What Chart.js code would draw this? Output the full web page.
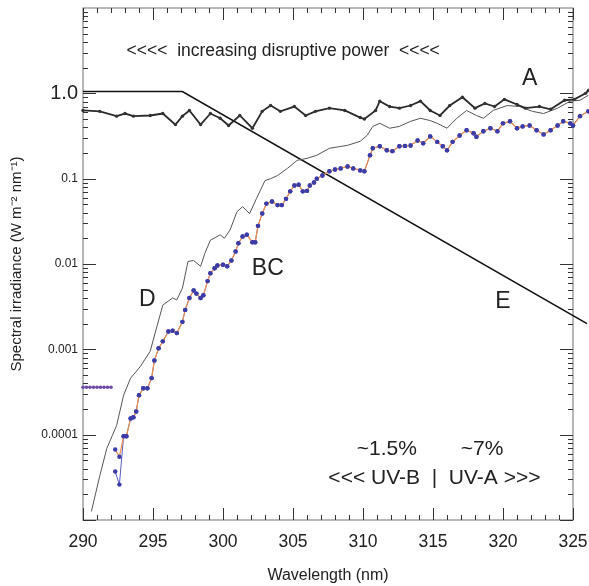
<!DOCTYPE html>
<html>
<head>
<meta charset="utf-8">
<script src="https://cdn.jsdelivr.net/npm/chart.js@4.4.1/dist/chart.umd.min.js"></script>
<style>
  html, body { margin: 0; padding: 0; background: #fff; }
  #uvChart { display: block; }
</style>
</head>
<body>
<canvas id="uvChart" width="589" height="586"></canvas>
<script>
  // wavelengths (nm) and spectral irradiance (W m-2 nm-1)

  // A – extraterrestrial spectrum (black, beaded)
  const aNm  = [290.0, 291.2, 292.4, 293.0, 293.6, 294.8, 295.7, 296.6, 297.1, 297.6, 298.4, 299.1, 299.8, 300.4,
                301.2, 302.1, 302.8, 303.4, 304.1, 305.1, 305.9, 306.6, 307.6, 308.7, 309.8, 310.1, 310.9, 311.2,
                311.9, 312.6, 313.4, 314.1, 314.8, 315.5, 316.2, 317.1, 318.0, 318.7, 319.4, 320.1, 321.0, 321.6,
                322.6, 323.4, 324.4, 325.1, 325.9, 326.1];
  const aVal = [0.63, 0.615, 0.54, 0.58, 0.54, 0.55, 0.58, 0.43, 0.54, 0.63, 0.43, 0.58, 0.51, 0.42,
                0.55, 0.39, 0.615, 0.72, 0.615, 0.70, 0.55, 0.615, 0.67, 0.63, 0.52, 0.50, 0.63, 0.81,
                0.70, 0.67, 0.72, 0.81, 0.63, 0.55, 0.72, 0.90, 0.67, 0.76, 0.70, 0.85, 0.74, 0.67,
                0.70, 0.65, 0.83, 0.85, 1.0, 1.08];

  // D – thin grey curve
  const dNm  = [290.6, 291.2, 291.7, 292.1, 292.4, 292.9, 293.4, 294.1, 294.8, 295.3, 295.7, 296.4, 296.7, 297.1,
                297.5, 297.9, 298.4, 298.7, 299.1, 299.8, 300.1, 300.5, 301.0, 301.4, 301.9, 302.4, 303.0, 303.4,
                303.9, 304.6, 305.3, 306.0, 306.7, 307.6, 308.9, 309.8, 310.3, 310.7, 311.2, 311.9, 312.6, 313.4,
                314.1, 314.8, 315.3, 316.0, 316.7, 317.4, 318.1, 318.6, 319.3, 320.3, 321.2, 322.1, 322.9, 323.9,
                324.8, 325.5, 326.1];
  const dVal = [1.26e-5, 3.3e-5, 6.9e-5, 9.8e-5, 1.28e-4, 2.9e-4, 4.6e-4, 6.3e-4, 9.5e-4, 1.9e-3, 3.3e-3, 4.0e-3, 3.8e-3, 5.2e-3,
                0.0107, 0.011, 0.0094, 0.0133, 0.019, 0.022, 0.020, 0.025, 0.041, 0.047, 0.039, 0.059, 0.095, 0.10,
                0.109, 0.132, 0.164, 0.173, 0.188, 0.227, 0.246, 0.274, 0.322, 0.41, 0.445, 0.39, 0.41, 0.47,
                0.51, 0.48, 0.445, 0.39, 0.51, 0.63, 0.55, 0.51, 0.63, 0.72, 0.70, 0.615, 0.58, 0.67,
                0.81, 0.83, 0.95];

  // B and C – blue dots; they only differ at the first two points
  const bcNm  = [292.9, 293.1, 293.4, 293.6, 293.8, 294.0, 294.3, 294.6, 294.9, 295.1, 295.4, 295.7, 296.1, 296.4,
                 296.7, 297.1, 297.3, 297.6, 297.9, 298.1, 298.4, 298.6, 298.9, 299.1, 299.4, 299.6, 300.0, 300.3,
                 300.6, 300.9, 301.1, 301.4, 301.7, 302.1, 302.3, 302.5, 302.8, 303.1, 303.5, 303.9, 304.2, 304.5,
                 304.8, 305.1, 305.4, 305.7, 306.0, 306.2, 306.5, 306.7, 307.1, 307.6, 308.0, 308.4, 308.9, 309.3,
                 309.8, 310.1, 310.5, 310.7, 311.2, 311.7, 312.1, 312.6, 313.0, 313.4, 313.9, 314.3, 314.8, 315.3,
                 315.7, 316.0, 316.4, 316.9, 317.4, 317.9, 318.1, 318.6, 319.1, 319.6, 320.0, 320.5, 321.0, 321.4,
                 321.9, 322.4, 322.9, 323.4, 323.9, 324.3, 324.8, 325.0, 325.5, 326.1];
  const bcVal = [9.6e-5, 9.6e-5, 1.55e-4, 1.6e-4, 1.87e-4, 2.9e-4, 3.5e-4, 3.5e-4, 4.6e-4, 7.4e-4, 1.03e-3, 1.24e-3, 1.62e-3, 1.65e-3,
                 1.55e-3, 2.1e-3, 2.9e-3, 4.0e-3, 4.9e-3, 4.5e-3, 4.0e-3, 4.3e-3, 6.3e-3, 7.8e-3, 8.9e-3, 9.6e-3, 9.8e-3, 9.4e-3,
                 0.011, 0.014, 0.0175, 0.021, 0.022, 0.018, 0.018, 0.028, 0.039, 0.051, 0.054, 0.049, 0.049, 0.058,
                 0.071, 0.083, 0.085, 0.071, 0.072, 0.083, 0.09, 0.10, 0.109, 0.122, 0.128, 0.132, 0.139, 0.132,
                 0.125, 0.122, 0.188, 0.227, 0.24, 0.215, 0.21, 0.24, 0.242, 0.245, 0.28, 0.26, 0.313, 0.27,
                 0.24, 0.215, 0.27, 0.32, 0.37, 0.34, 0.31, 0.36, 0.39, 0.36, 0.445, 0.47, 0.39, 0.41,
                 0.42, 0.37, 0.33, 0.37, 0.42, 0.47, 0.445, 0.42, 0.54, 0.615];
  const bStartNm  = [292.3, 292.6];
  const bStartVal = [3.7e-5, 2.6e-5];
  const cStartNm  = [292.3, 292.6];
  const cStartVal = [6.7e-5, 5.5e-5];

  // flat purple segment on the left
  const flatNm  = [290.0, 290.25, 290.5, 290.75, 291.0, 291.25, 291.5, 291.75, 292.0];
  const flatVal = [3.6e-4, 3.6e-4, 3.6e-4, 3.6e-4, 3.6e-4, 3.6e-4, 3.6e-4, 3.6e-4, 3.6e-4];

  // E – action spectrum (flat, then log-linear fall)
  const eNm  = [290.0, 297.1, 326.0];
  const eVal = [1.05, 1.05, 0.002];

  const yTickVals = [0.0001, 0.001, 0.01, 0.1, 1];
  const yTickText = ['0.0001', '0.001', '0.01', '0.1', '1.0'];

  // text annotations: [text, nm, value, font size]
  const notes = [
    ['<<<<  increasing disruptive power  <<<<', 304.3, 3.1, 17.5],
    ['A', 321.9, 1.5, 23],
    ['D', 294.6, 0.00385, 23],
    ['BC', 303.2, 0.0089, 23],
    ['E', 320.0, 0.00364, 23],
    ['~1.5%', 311.7, 6.7e-5, 21],
    ['~7%', 318.5, 6.7e-5, 21],
    ['<<< UV-B  |  UV-A >>>', 315.1, 3.07e-5, 21]
  ];

  const pts = (xs, ys) => xs.map((x, i) => ({x: x, y: ys[i]}));
  const FONT = '"Liberation Sans", Arial, Helvetica, sans-serif';

  let savedArea = null;

  const frameTicks = {
    id: 'frameTicks',
    beforeDatasetsDraw(chart) {
      const {ctx, chartArea: a, scales: {x, y}} = chart;
      ctx.save();
      ctx.strokeStyle = '#888';
      ctx.lineWidth = 1.2;
      ctx.strokeRect(a.left, a.top, a.right - a.left, a.bottom - a.top);
      ctx.strokeStyle = '#333';
      ctx.lineWidth = 1;
      ctx.beginPath();
      for (let nm = 290; nm <= 325; nm++) {
        const px = Math.round(x.getPixelForValue(nm)) + 0.5;
        const len = nm % 5 === 0 ? 12 : 5;
        ctx.moveTo(px, a.bottom); ctx.lineTo(px, a.bottom - len);
        ctx.moveTo(px, a.top); ctx.lineTo(px, a.top + len);
      }
      for (let e = -5; e <= 0; e++) {
        for (let m = 1; m <= 9; m++) {
          const v = m * Math.pow(10, e);
          if (v < 1e-5 || v > 10) continue;
          const py = Math.round(y.getPixelForValue(v)) + 0.5;
          const len = m === 1 ? 13 : 5;
          ctx.moveTo(a.left, py); ctx.lineTo(a.left + len, py);
          ctx.moveTo(a.right, py); ctx.lineTo(a.right - len, py);
        }
      }
      ctx.stroke();
      ctx.restore();
      // let the points past 325 nm be drawn too, as in the figure
      savedArea = {right: a.right, width: a.width};
      a.right = chart.width;
      a.width = a.right - a.left;
    },
    afterDatasetsDraw(chart) {
      const {ctx, chartArea: a, scales: {x, y}} = chart;
      if (savedArea) { a.right = savedArea.right; a.width = savedArea.width; }
      ctx.save();
      ctx.fillStyle = '#222';
      ctx.textAlign = 'center';
      ctx.textBaseline = 'middle';
      notes.forEach(n => {
        ctx.font = n[3] + 'px ' + FONT;
        ctx.fillText(n[0], x.getPixelForValue(n[1]), y.getPixelForValue(n[2]));
      });
      ctx.restore();
    }
  };

  const config = {
    type: 'line',
    data: {
      datasets: [
        {
          // C – orange line with blue dots
          data: pts(cStartNm.concat(bcNm), cStartVal.concat(bcVal)),
          borderColor: '#f0904a', borderWidth: 1.2,
          pointRadius: 2.2, pointBackgroundColor: '#3c3ca8', pointBorderWidth: 0,
          clip: false
        },
        {
          // B – thin blue line with blue dots
          data: pts(bStartNm.concat(bcNm), bStartVal.concat(bcVal)),
          borderColor: '#5a5ac0', borderWidth: 1,
          pointRadius: 2.2, pointBackgroundColor: '#3c3ca8', pointBorderWidth: 0,
          clip: false
        },
        {
          data: pts(flatNm, flatVal),
          borderColor: '#d0508a', borderWidth: 1,
          pointRadius: 1.8, pointBackgroundColor: '#6a4aa8', pointBorderWidth: 0,
          clip: false
        },
        {
          // A
          data: pts(aNm, aVal),
          borderColor: '#2a2a2a', borderWidth: 1.8,
          pointRadius: 1.7, pointBackgroundColor: '#333', pointBorderWidth: 0,
          clip: false
        },
        {
          // D
          data: pts(dNm, dVal),
          borderColor: '#555', borderWidth: 1,
          pointRadius: 0,
          clip: false
        },
        {
          // E
          data: pts(eNm, eVal),
          borderColor: '#111', borderWidth: 1.6,
          pointRadius: 0,
          clip: false
        }
      ]
    },
    options: {
      responsive: false,
      animation: false,
      layout: { padding: { top: 8, right: 16, left: 0, bottom: 0 } },
      plugins: {
        legend: { display: false },
        tooltip: { enabled: false }
      },
      scales: {
        x: {
          type: 'linear',
          afterDataLimits: s => { s.min = 290; s.max = 325; },
          afterFit: s => { s.height = 66; s.paddingLeft = 0; s.paddingRight = 0; },
          grid: { display: false, drawTicks: false },
          border: { display: false },
          ticks: { stepSize: 5, padding: 12, color: '#222', font: { family: FONT, size: 17.5 } },
          title: {
            display: true, text: 'Wavelength (nm)', color: '#222',
            font: { family: FONT, size: 16 }, padding: { top: 0, bottom: 1 }
          }
        },
        y: {
          type: 'logarithmic',
          min: 1e-5,
          max: 10,
          afterFit: s => { s.width = 83; s.paddingTop = 0; s.paddingBottom = 0; },
          afterBuildTicks: s => { s.ticks = yTickVals.map(v => ({value: v})); },
          grid: { display: false, drawTicks: false },
          border: { display: false },
          ticks: {
            padding: 5,
            color: '#222',
            autoSkip: false,
            callback: v => yTickText[yTickVals.indexOf(v)],
            font: c => ({ family: FONT, size: (c.tick && c.tick.value === 1) ? 20 : 12 })
          },
          title: {
            display: true, text: 'Spectral irradiance (W m\u207B\u00B2 nm\u207B\u00B9)', color: '#222',
            font: { family: FONT, size: 15 }, padding: { top: 8, bottom: 0 }
          }
        }
      }
    },
    plugins: [frameTicks]
  };

  new Chart(document.getElementById('uvChart').getContext('2d'), config);
</script>
</body>
</html>
